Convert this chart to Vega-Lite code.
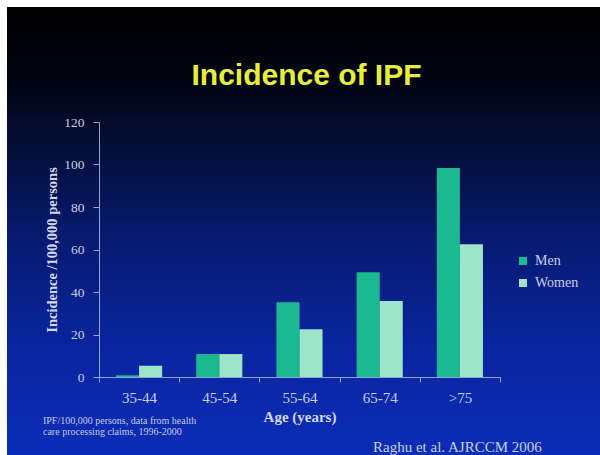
{
  "$schema": "https://vega.github.io/schema/vega-lite/v6.json",
  "width": 401,
  "height": 255,
  "autosize": {"type": "none"},
  "padding": {"left": 99, "top": 122, "right": 100, "bottom": 78},
  "background": "#ffffff",
  "config": {
    "view": {"stroke": null},
    "axis": {
      "zindex": 1,
      "grid": false,
      "domainColor": "#95a2d4",
      "tickColor": "#95a2d4",
      "labelFont": "Liberation Serif",
      "labelColor": "#c9d0ea",
      "titleFont": "Liberation Serif",
      "titleColor": "#d2d8ef",
      "titleFontWeight": "bold"
    }
  },
  "title": {
    "text": "Incidence of IPF",
    "font": "Liberation Sans",
    "fontSize": 30,
    "fontWeight": "bold",
    "color": "#e6ee3c",
    "anchor": "middle",
    "frame": "group",
    "baseline": "alphabetic",
    "offset": -108,
    "dx": 7
  },
  "layer": [
    {
      "data": {"values": [{}]},
      "mark": {
        "type": "rect",
        "fill": {
          "gradient": "linear",
          "x1": 0, "y1": 0, "x2": 0, "y2": 1,
          "stops": [
            {"offset": 0, "color": "#000000"},
            {"offset": 0.15, "color": "#01030f"},
            {"offset": 0.3, "color": "#040d35"},
            {"offset": 0.5, "color": "#071a6e"},
            {"offset": 0.75, "color": "#0925a0"},
            {"offset": 1, "color": "#0b2db8"}
          ]
        }
      },
      "encoding": {
        "x": {"datum": -0.2294, "type": "quantitative", "scale": {"domain": [0, 1], "nice": false, "zero": false}, "axis": null},
        "x2": {"datum": 1.25},
        "y": {"datum": 174.1, "type": "quantitative", "scale": {"domain": [0, 120], "nice": false, "zero": false}, "axis": null},
        "y2": {"datum": -40}
      }
    },
    {
      "data": {
        "values": [
          {"age": "35-44", "sex": "Men", "incidence": 0.8},
          {"age": "35-44", "sex": "Women", "incidence": 5.3},
          {"age": "45-54", "sex": "Men", "incidence": 10.8},
          {"age": "45-54", "sex": "Women", "incidence": 10.8},
          {"age": "55-64", "sex": "Men", "incidence": 35.2},
          {"age": "55-64", "sex": "Women", "incidence": 22.5},
          {"age": "65-74", "sex": "Men", "incidence": 49.3},
          {"age": "65-74", "sex": "Women", "incidence": 35.8},
          {"age": ">75", "sex": "Men", "incidence": 98.3},
          {"age": ">75", "sex": "Women", "incidence": 62.5}
        ]
      },
      "mark": {"type": "bar"},
      "encoding": {
        "x": {
          "field": "age",
          "type": "nominal",
          "sort": ["35-44", "45-54", "55-64", "65-74", ">75"],
          "scale": {"paddingInner": 0, "paddingOuter": 0},
          "axis": {
            "orient": "bottom",
            "zindex": 2,
            "title": "Age (years)",
            "labelAngle": 0,
            "tickBand": "extent",
            "tickSize": 5,
            "labelPadding": 8,
            "labelFontSize": 15,
            "titleFontSize": 15,
            "titlePadding": 4
          }
        },
        "xOffset": {
          "field": "sex",
          "type": "nominal",
          "sort": ["Men", "Women"],
          "scale": {"paddingInner": 0, "paddingOuter": 0.74}
        },
        "y": {
          "field": "incidence",
          "type": "quantitative",
          "scale": {"domain": [0, 120], "nice": false, "zero": false},
          "axis": {
            "orient": "left",
            "zindex": 2,
            "title": "Incidence /100,000 persons",
            "values": [0, 20, 40, 60, 80, 100, 120],
            "tickSize": 6,
            "labelPadding": 9,
            "labelFontSize": 13.5,
            "titleFontSize": 14.5,
            "titlePadding": 4
          }
        },
        "color": {
          "field": "sex",
          "type": "nominal",
          "scale": {"domain": ["Men", "Women"], "range": ["#1ab992", "#9de5c8"]},
          "legend": {
            "orient": "none",
            "legendX": 417,
            "legendY": 132,
            "title": null,
            "padding": 0,
            "symbolType": "square",
            "symbolSize": 64,
            "symbolStrokeWidth": 0,
            "labelFont": "Liberation Serif",
            "labelFontSize": 14,
            "labelColor": "#c9d0ea",
            "labelOffset": 5,
            "rowPadding": 8
          }
        }
      }
    },
    {
      "data": {"values": [{}]},
      "mark": {
        "type": "text",
        "font": "Liberation Serif",
        "fontSize": 10,
        "lineHeight": 11,
        "align": "left",
        "baseline": "alphabetic",
        "color": "#c3cbe8",
        "text": ["IPF/100,000 persons, data from health", "care processing claims, 1996-2000"]
      },
      "encoding": {
        "x": {"datum": -0.1397, "type": "quantitative", "scale": {"domain": [0, 1], "nice": false, "zero": false}, "axis": null},
        "y": {"datum": -22.35, "type": "quantitative", "scale": {"domain": [0, 120], "nice": false, "zero": false}, "axis": null}
      }
    },
    {
      "data": {"values": [{}]},
      "mark": {
        "type": "text",
        "font": "Liberation Serif",
        "fontSize": 15,
        "align": "left",
        "baseline": "alphabetic",
        "color": "#c9d0ea",
        "text": "Raghu et al. AJRCCM 2006"
      },
      "encoding": {
        "x": {"datum": 0.6833, "type": "quantitative", "scale": {"domain": [0, 1], "nice": false, "zero": false}, "axis": null},
        "y": {"datum": -35.3, "type": "quantitative", "scale": {"domain": [0, 120], "nice": false, "zero": false}, "axis": null}
      }
    }
  ],
  "resolve": {"scale": {"x": "independent", "y": "independent"}}
}
